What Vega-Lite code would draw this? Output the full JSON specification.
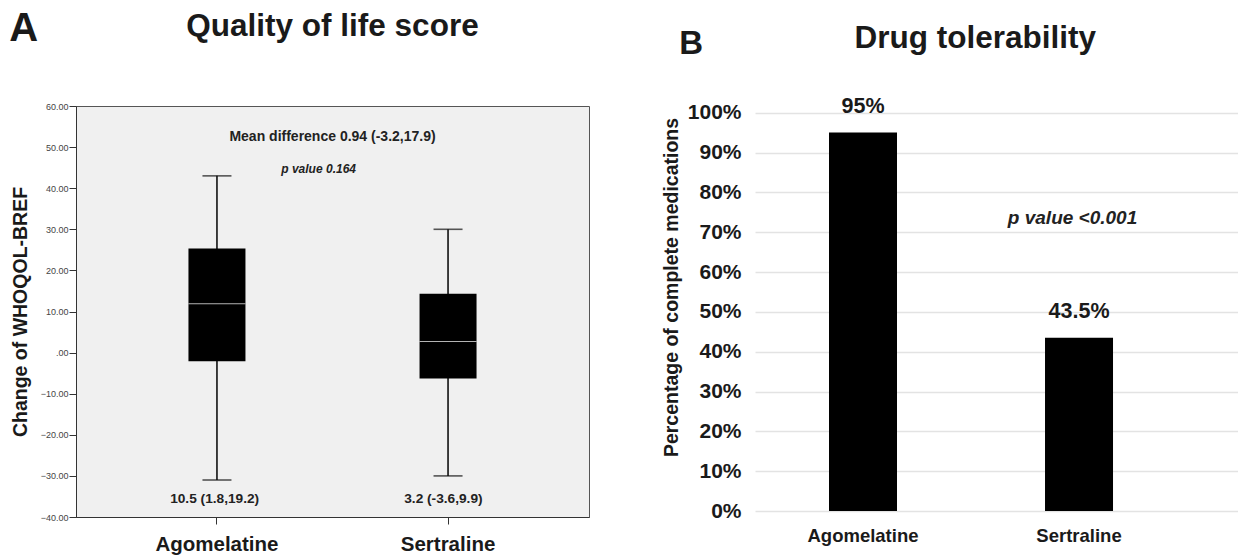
{
  "$schema": "https://vega.github.io/schema/vega-lite/v6.json",
  "padding": {"left": 8, "top": 8, "right": 0, "bottom": 0},
  "background": "white",
  "config": {
    "font": "Liberation Sans",
    "view": {"stroke": null},
    "title": {"font": "Liberation Sans", "fontWeight": "bold", "color": "#1a1a1a"},
    "axis": {"labelFont": "Liberation Sans", "titleFont": "Liberation Sans"}
  },
  "spacing": 71,
  "hconcat": [
    {
      "width": 513,
      "height": 411,
      "title": {"text": "A", "anchor": "start", "frame": "bounds", "fontSize": 40, "offset": -38, "dx": -1},
      "view": {"fill": "#f0f0f0", "stroke": "#555555", "strokeWidth": 1},
      "data": {"values": [
        {"group": "Agomelatine", "lower": -31, "q1": -2.1, "median": 11.9, "q3": 25.3, "upper": 43},
        {"group": "Sertraline", "lower": -30, "q1": -6.3, "median": 2.7, "q3": 14.3, "upper": 30}
      ]},
      "encoding": {
        "x": {
          "field": "group", "type": "nominal",
          "scale": {"paddingInner": 0, "paddingOuter": 0.11},
          "axis": {"title": null, "labelAngle": 0, "labelFontSize": 20.5, "labelFontWeight": "bold", "labelColor": "#1a1a1a", "tickSize": 7, "tickColor": "#333333", "domainColor": "#333333", "labelPadding": 10}
        }
      },
      "layer": [
        {
          "mark": {"type": "rule", "color": "#111111", "strokeWidth": 1.6},
          "encoding": {
            "y": {"field": "lower", "type": "quantitative", "scale": {"domain": [-40, 60], "nice": false},
              "axis": {"title": "Change of WHOQOL-BREF", "titleFontSize": 19.5, "titleFontWeight": "bold", "titleColor": "#1a1a1a", "titlePadding": 10,
                "values": [-40, -30, -20, -10, 0, 10, 20, 30, 40, 50, 60],
                "labelExpr": "datum.value == 0 ? '.00' : format(datum.value, '.2f')",
                "labelFontSize": 9, "labelColor": "#444444", "labelPadding": 1, "tickSize": 7, "tickColor": "#333333", "domainColor": "#333333", "grid": false}},
            "y2": {"field": "upper"}
          }
        },
        {
          "mark": {"type": "tick", "color": "#111111", "size": 29, "thickness": 1.6},
          "encoding": {"y": {"field": "lower", "type": "quantitative"}}
        },
        {
          "mark": {"type": "tick", "color": "#111111", "size": 29, "thickness": 1.6},
          "encoding": {"y": {"field": "upper", "type": "quantitative"}}
        },
        {
          "mark": {"type": "bar", "color": "#000000", "size": 57},
          "encoding": {"y": {"field": "q1", "type": "quantitative"}, "y2": {"field": "q3"}}
        },
        {
          "mark": {"type": "tick", "color": "#ffffff", "size": 57, "thickness": 1},
          "encoding": {"y": {"field": "median", "type": "quantitative"}}
        },
        {
          "data": {"values": [{"group": "Agomelatine", "label": "Quality of life score"}]},
          "mark": {"type": "text", "fontSize": 31.5, "fontWeight": "bold", "color": "#1a1a1a", "baseline": "alphabetic"},
          "encoding": {
            "x": {"field": "group", "type": "nominal", "bandPosition": 1},
            "y": {"datum": 77, "type": "quantitative"},
            "text": {"field": "label"}
          }
        },
        {
          "data": {"values": [{"group": "Agomelatine", "label": "Mean difference 0.94 (-3.2,17.9)"}]},
          "mark": {"type": "text", "fontSize": 14, "fontWeight": "bold", "color": "#222222", "baseline": "middle"},
          "encoding": {
            "x": {"field": "group", "type": "nominal", "bandPosition": 1},
            "y": {"datum": 52.5, "type": "quantitative"},
            "text": {"field": "label"}
          }
        },
        {
          "data": {"values": [{"group": "Agomelatine", "label": "p value 0.164"}]},
          "mark": {"type": "text", "fontSize": 12, "fontWeight": "bold", "fontStyle": "italic", "color": "#222222", "baseline": "middle"},
          "encoding": {
            "x": {"field": "group", "type": "nominal", "bandPosition": 0.94},
            "y": {"datum": 44.7, "type": "quantitative"},
            "text": {"field": "label"}
          }
        },
        {
          "data": {"values": [{"group": "Agomelatine", "label": "10.5 (1.8,19.2)"}]},
          "mark": {"type": "text", "fontSize": 13.7, "fontWeight": "bold", "color": "#222222", "baseline": "middle"},
          "encoding": {
            "x": {"field": "group", "type": "nominal", "bandPosition": 0.49},
            "y": {"datum": -35.6, "type": "quantitative"},
            "text": {"field": "label"}
          }
        },
        {
          "data": {"values": [{"group": "Sertraline", "label": "3.2 (-3.6,9.9)"}]},
          "mark": {"type": "text", "fontSize": 13.7, "fontWeight": "bold", "color": "#222222", "baseline": "middle"},
          "encoding": {
            "x": {"field": "group", "type": "nominal", "bandPosition": 0.48},
            "y": {"datum": -35.6, "type": "quantitative"},
            "text": {"field": "label"}
          }
        }
      ]
    },
    {
      "width": 483,
      "height": 405,
      "title": {"text": "B", "anchor": "start", "frame": "bounds", "fontSize": 33, "offset": -38, "dx": 18},
      "data": {"values": [
        {"group": "Agomelatine", "pct": 0.95, "label": "95%"},
        {"group": "Sertraline", "pct": 0.435, "label": "43.5%"}
      ]},
      "encoding": {
        "x": {
          "field": "group", "type": "nominal",
          "scale": {"paddingInner": 0, "paddingOuter": 0.118, "align": 0},
          "axis": {"title": null, "labelAngle": 0, "labelFontSize": 18.5, "labelFontWeight": "bold", "labelColor": "#1a1a1a", "ticks": false, "domain": false, "labelPadding": 15}
        }
      },
      "layer": [
        {
          "mark": {"type": "bar", "color": "#000000", "size": 68},
          "encoding": {
            "y": {"field": "pct", "type": "quantitative", "scale": {"domain": [0, 1.0168], "nice": false},
              "axis": {"title": "Percentage of complete medications", "titleFontSize": 19.5, "titleFontWeight": "bold", "titleColor": "#1a1a1a", "titlePadding": 6, "titleY": 181,
                "values": [0, 0.1, 0.2, 0.3, 0.4, 0.5, 0.6, 0.7, 0.8, 0.9, 1],
                "format": ".0%", "labelFontSize": 21, "labelFontWeight": "bold", "labelColor": "#1a1a1a", "labelPadding": 14,
                "ticks": false, "domain": false, "grid": true, "gridColor": "#e3e3e3", "gridWidth": 1.5}}
          }
        },
        {
          "mark": {"type": "text", "fontSize": 21.5, "fontWeight": "bold", "color": "#1a1a1a", "baseline": "bottom", "dy": -15},
          "encoding": {
            "y": {"field": "pct", "type": "quantitative"},
            "text": {"field": "label"}
          }
        },
        {
          "data": {"values": [{"group": "Agomelatine", "label": "Drug tolerability"}]},
          "mark": {"type": "text", "fontSize": 31.5, "fontWeight": "bold", "color": "#1a1a1a", "baseline": "alphabetic"},
          "encoding": {
            "x": {"field": "group", "type": "nominal", "bandPosition": 1.02},
            "y": {"datum": 1.1625, "type": "quantitative"},
            "text": {"field": "label"}
          }
        },
        {
          "data": {"values": [{"group": "Sertraline", "label": "p value <0.001"}]},
          "mark": {"type": "text", "fontSize": 19, "fontWeight": "bold", "fontStyle": "italic", "color": "#222222", "baseline": "middle"},
          "encoding": {
            "x": {"field": "group", "type": "nominal", "bandPosition": 0.47},
            "y": {"datum": 0.736, "type": "quantitative"},
            "text": {"field": "label"}
          }
        }
      ]
    }
  ]
}
